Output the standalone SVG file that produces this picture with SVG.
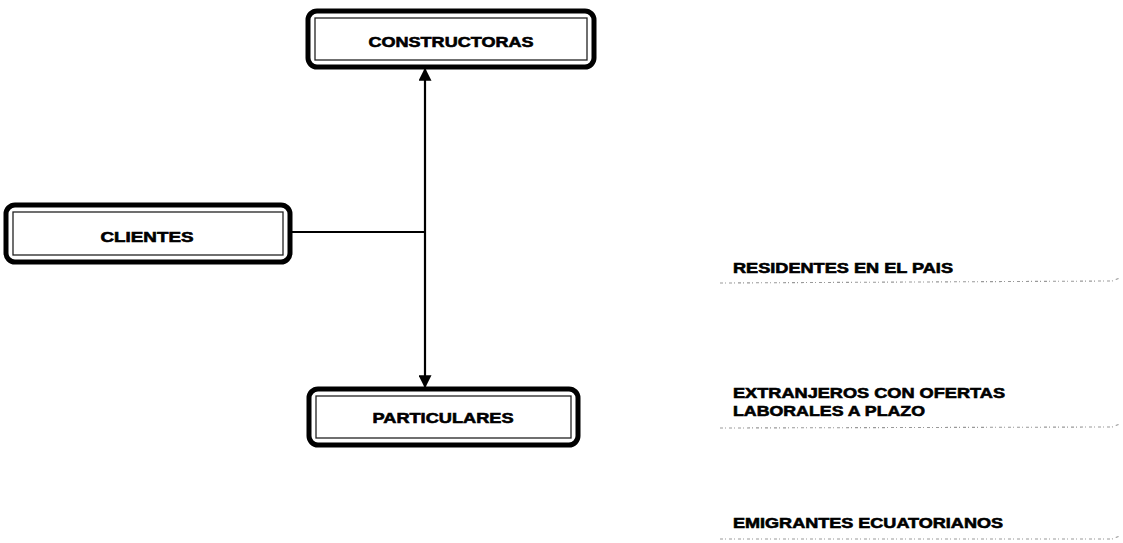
<svg xmlns="http://www.w3.org/2000/svg" width="1123" height="543" viewBox="0 0 1123 543">
<style>
.outer{fill:#fff;stroke:#000;stroke-width:5}
.inner{fill:none;stroke:#222;stroke-width:1.3}
.lbl{font-family:"Liberation Sans",Arial,sans-serif;font-weight:bold;font-size:15px;fill:#000;stroke:#000;stroke-width:0.6}
.dot{stroke:#999;stroke-width:1.1;stroke-dasharray:3 2 1 3;fill:none}
.con{stroke:#000;stroke-width:2.2;fill:none}
</style>
<defs>
<marker id="ah" viewBox="0 0 10 10" refX="9" refY="5" markerWidth="13" markerHeight="13" markerUnits="userSpaceOnUse" orient="auto-start-reverse">
<path d="M0,0 L10,5 L0,10 z" fill="#000"/>
</marker>
</defs>
<rect width="1123" height="543" fill="#fff"/>
<g id="connectors">
<line class="con" x1="425" y1="69" x2="425" y2="387" marker-start="url(#ah)" marker-end="url(#ah)"/>
<line class="con" x1="290" y1="232" x2="425" y2="232"/>
</g>
<g id="constructoras">
<rect class="outer" x="308" y="11" width="286" height="56" rx="9"/>
<rect class="inner" x="315" y="18" width="272" height="42"/>
<text class="lbl" x="451" y="47" text-anchor="middle" textLength="165" lengthAdjust="spacingAndGlyphs">CONSTRUCTORAS</text>
</g>
<g id="clientes">
<rect class="outer" x="6" y="205" width="284" height="57" rx="9"/>
<rect class="inner" x="13" y="212" width="270" height="43"/>
<text class="lbl" x="147" y="242" text-anchor="middle" textLength="93" lengthAdjust="spacingAndGlyphs">CLIENTES</text>
</g>
<g id="particulares">
<rect class="outer" x="309" y="389" width="269" height="56" rx="9"/>
<rect class="inner" x="316" y="396" width="255" height="42"/>
<text class="lbl" x="443" y="423" text-anchor="middle" textLength="141" lengthAdjust="spacingAndGlyphs">PARTICULARES</text>
</g>
<g id="residentes">
<text class="lbl" x="733" y="273" textLength="220" lengthAdjust="spacingAndGlyphs">RESIDENTES EN EL PAIS</text>
<path class="dot" d="M720,283 L1112,281 L1120,278"/>
</g>
<g id="extranjeros">
<text class="lbl" x="733" y="398" textLength="272" lengthAdjust="spacingAndGlyphs">EXTRANJEROS CON OFERTAS</text>
<text class="lbl" x="733" y="416" textLength="192" lengthAdjust="spacingAndGlyphs">LABORALES A PLAZO</text>
<path class="dot" d="M720,428 L1112,427 L1120,424"/>
</g>
<g id="emigrantes">
<text class="lbl" x="733" y="528" textLength="270" lengthAdjust="spacingAndGlyphs">EMIGRANTES ECUATORIANOS</text>
<path class="dot" d="M720,539 L1112,539 L1120,536"/>
</g>
</svg>
